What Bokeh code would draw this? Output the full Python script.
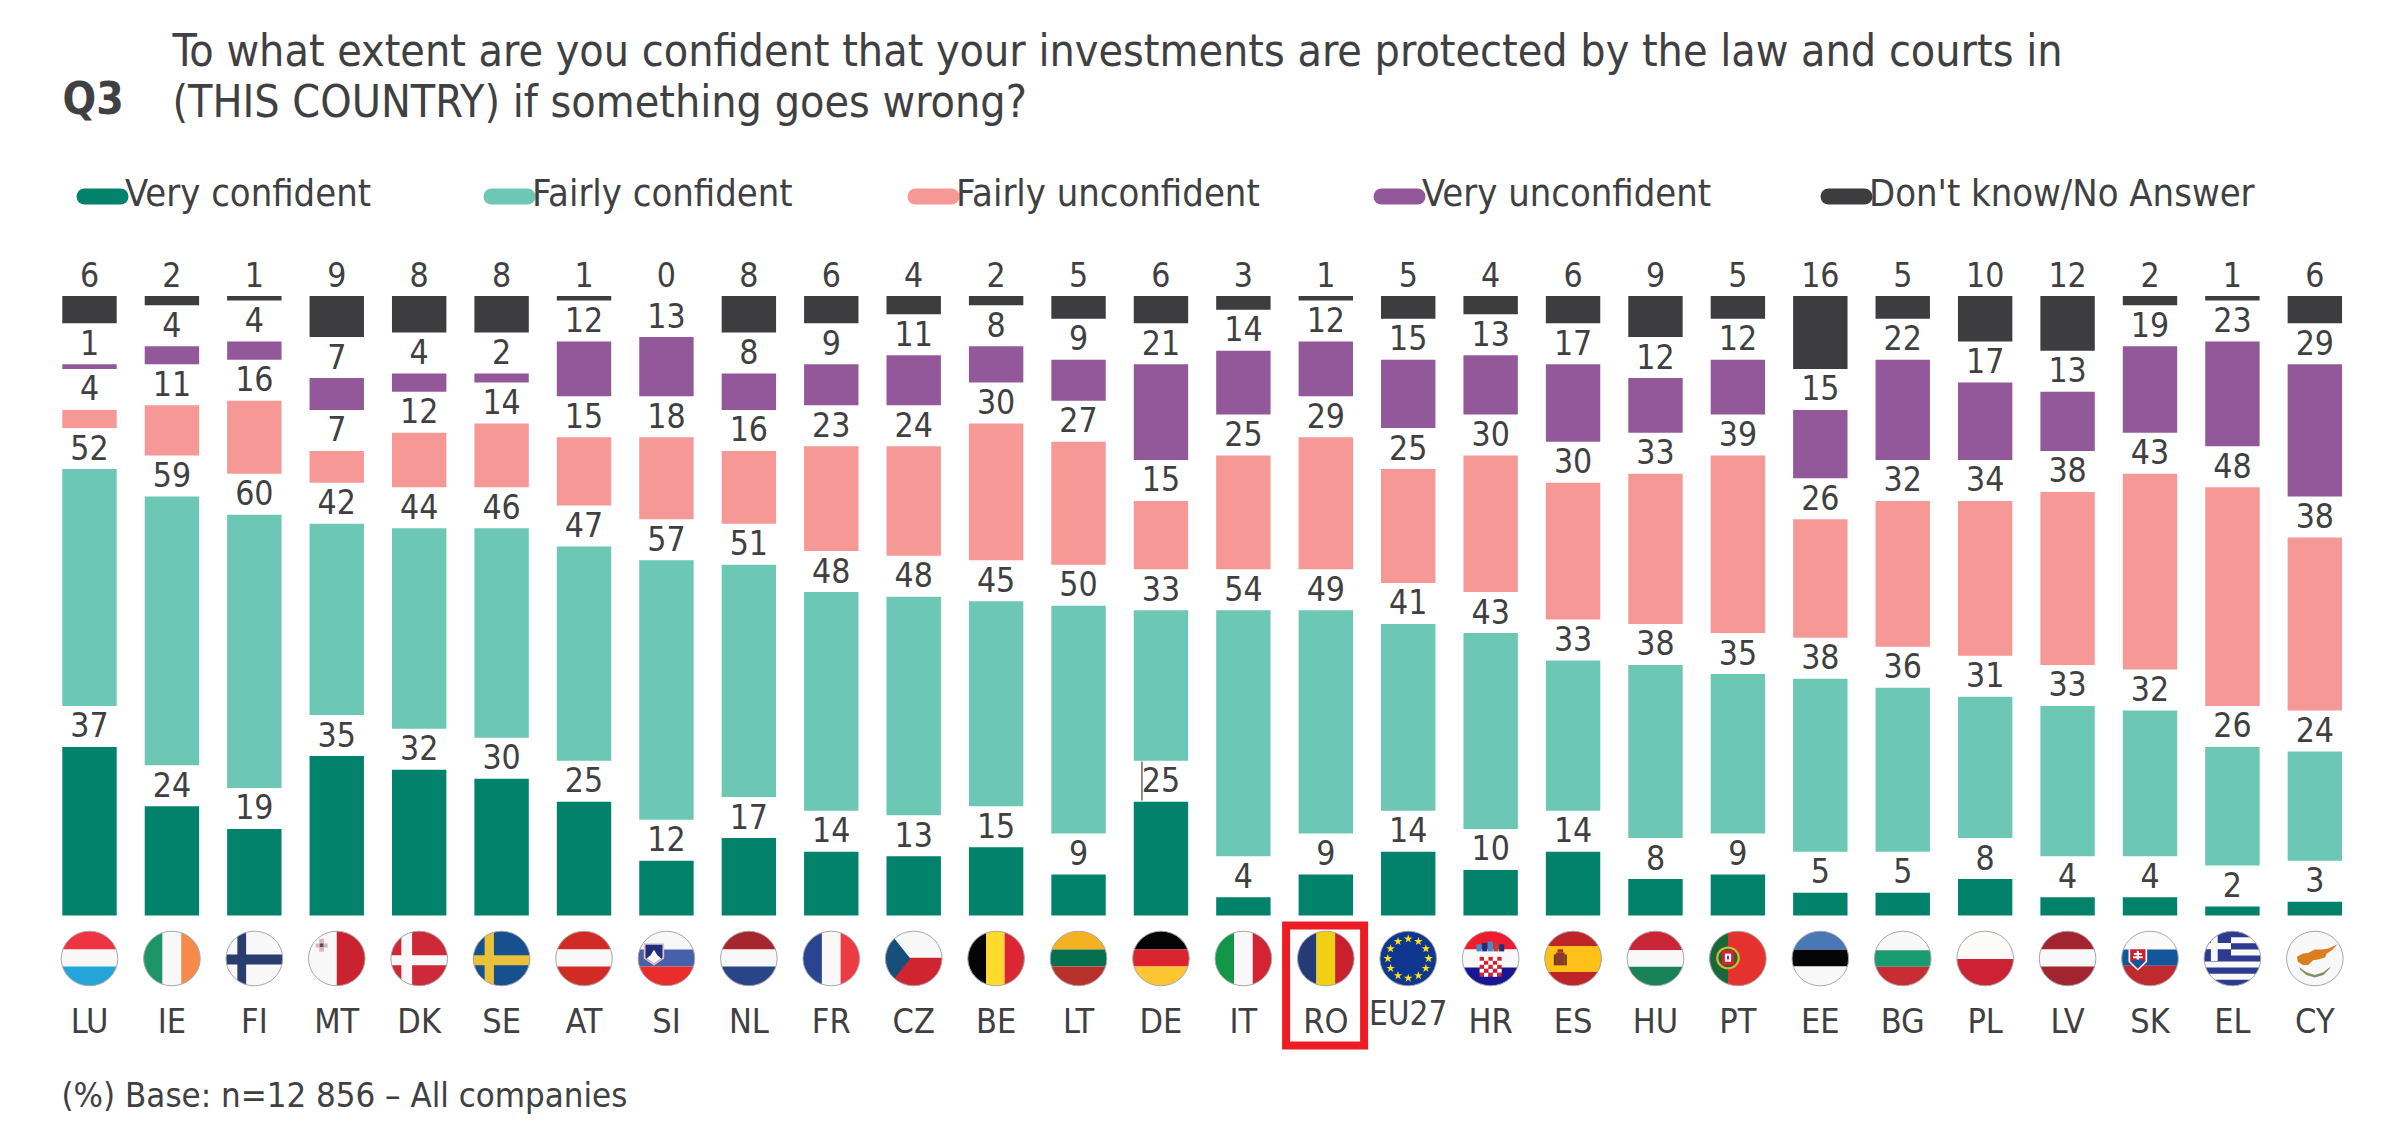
import math
from bokeh.plotting import figure
from bokeh.models import Range1d
from bokeh.core.properties import value
from bokeh.embed import file_html
from bokeh.resources import INLINE

countries = ["LU","IE","FI","MT","DK","SE","AT","SI","NL","FR","CZ","BE","LT","DE","IT","RO","EU27","HR","ES","HU","PT","EE","BG","PL","LV","SK","EL","CY"]
very_confident = [37,24,19,35,32,30,25,12,17,14,13,15,9,25,4,9,14,10,14,8,9,5,5,8,4,4,2,3]
fairly_confident = [52,59,60,42,44,46,47,57,51,48,48,45,50,33,54,49,41,43,33,38,35,38,36,31,33,32,26,24]
fairly_unconfident = [4,11,16,7,12,14,15,18,16,23,24,30,27,15,25,29,25,30,30,33,39,26,32,34,38,43,48,38]
very_unconfident = [1,4,4,7,4,2,12,13,8,9,11,8,9,21,14,12,15,13,17,12,12,15,22,17,13,19,23,29]
dont_know = [6,2,1,9,8,8,1,0,8,6,4,2,5,6,3,1,5,4,6,9,5,16,5,10,12,2,1,6]
series_names = ["Very confident","Fairly confident","Fairly unconfident","Very unconfident","Don't know/No Answer"]
series_values = [very_confident,fairly_confident,fairly_unconfident,very_unconfident,dont_know]
series_colors = ["#02826A","#6CC7B5","#F69896","#93589A","#3D3D3F"]
title_lines = ["To what extent are you confident that your investments are protected by the law and courts in","(THIS COUNTRY) if something goes wrong?"]
question = "Q3"
footnote = "(%) Base: n=12 856 \u2013 All companies"

W, H = 2378, 1123
OFF = 0
STEP = 82.42
X0 = 89.0
BASE = 915.0
UNIT = 4.555
GAP = 9.0
FONT = value("DejaVu Sans Condensed")
TXT = "#404042"

p = figure(width=W, height=H, output_backend="svg", toolbar_location=None,
           x_range=Range1d((OFF-X0)/STEP, (OFF+W-X0)/STEP),
           y_range=Range1d((BASE-(OFF+H))/UNIT, (BASE-OFF)/UNIT),
           x_axis_location=None, y_axis_location=None, min_border=0, outline_line_color=None)
p.grid.visible = False
p.extra_x_ranges["px"] = Range1d(OFF, OFF+W)
p.extra_y_ranges["px"] = Range1d(OFF+H, OFF)
PX = dict(x_range_name="px", y_range_name="px")

xs = list(range(len(countries)))
bottoms = [0.0]*len(countries)
for k, (name, vals, col) in enumerate(zip(series_names, series_values, series_colors)):
    tops = [b+v for b, v in zip(bottoms, vals)]
    p.vbar(x=xs, bottom=bottoms, top=tops, width=0.66, fill_color=col, line_color=None)
    p.text(x=xs, y=tops, text=[str(v) for v in vals], text_align="center", text_baseline="middle",
           y_offset=-22, text_font=FONT, text_font_size=value("33.5px"), text_color=TXT)
    bottoms = [t+GAP for t in tops]

# leader line next to the German label
de_x = X0 + countries.index("DE")*STEP - 19
p.segment(x0=[de_x], y0=[761], x1=[de_x], y1=[800], line_color="#222222", line_width=1, **PX)

# ---- text: y is the baseline of the capitals
def txt(x, y, s, size, font=FONT, style="normal", align="left", color=TXT):
    p.text(x=[x], y=[y-0.365*size], text=[s], text_font=font, text_font_size=value(f"{size}px"), text_font_style=style,
           text_align=align, text_baseline="middle", text_color=color, **PX)

txt(172, 66, title_lines[0], 44.4)
txt(172, 117, title_lines[1], 44.4)
txt(62, 114, question, 44, style="bold")
txt(61, 1107, footnote, 34.5)

legend_pill_x = [76, 483, 907, 1373, 1820]
for x0, name, col in zip(legend_pill_x, series_names, series_colors):
    p.segment(x0=[x0+8], y0=[196], x1=[x0+44], y1=[196], line_color=col, line_width=16, line_cap="round", **PX)
    txt(x0+48.5, 206, name, 37.8)

for i, c in enumerate(countries):
    if c == "EU27":
        txt(X0+i*STEP, 1025, c, 33, align="center")
    else:
        txt(X0+i*STEP, 1033, c, 34, align="center")

# ---- flags
RX, RY, FY = 28.3, 27.3, 958.0
def circle_poly(n=72):
    return [(math.cos(2*math.pi*j/n), math.sin(2*math.pi*j/n)) for j in range(n)]
def clip_half(poly, a, b, c):
    out = []
    for j in range(len(poly)):
        x1, y1 = poly[j]; x2, y2 = poly[(j+1) % len(poly)]
        d1, d2 = a*x1+b*y1-c, a*x2+b*y2-c
        if d1 <= 0: out.append((x1, y1))
        if d1*d2 < 0:
            t = d1/(d1-d2); out.append((x1+t*(x2-x1), y1+t*(y2-y1)))
    return out
def box(u0, u1, v0, v1):
    poly = circle_poly()
    for a, b, c in [(1,0,u1),(-1,0,-u0),(0,1,v1),(0,-1,-v0)]:
        poly = clip_half(poly, a, b, c)
    return poly
def H3(a, b, c, v0=-.33, v1=.29):
    return [(a, box(-2,2,-2,v0)), (b, box(-2,2,v0,v1)), (c, box(-2,2,v1,2))]
def V3(a, b, c, u0=-.33, u1=.33):
    return [(a, box(-2,u0,-2,2)), (b, box(u0,u1,-2,2)), (c, box(u1,2,-2,2))]
def cross(bg, fg, u0, u1, v0, v1):
    return [(bg, box(-2,2,-2,2)), (fg, box(u0,u1,-2,2)), (fg, box(-2,2,v0,v1))]
def rect(u0, u1, v0, v1):
    return [(u0,v0),(u1,v0),(u1,v1),(u0,v1)]

W_ = "#F8F8F8"
flags = {
 "LU": H3("#EF3340",W_,"#24A4D8"),
 "IE": V3("#1D9566",W_,"#F58A4A"),
 "FI": cross(W_,"#2A3D6F",-.6,-.29,-.15,.22),
 "MT": [(W_,box(-2,2,-2,2)),("#CB2230",box(0,2,-2,2)),("#D9B8BC",rect(-.62,-.45,-.72,-.25)),("#D9B8BC",rect(-.75,-.32,-.55,-.4)),("#555555",rect(-.6,-.47,-.55,-.42))],
 "DK": cross("#CE2939",W_,-.63,-.25,-.12,.25),
 "SE": cross("#16508F","#E9C13A",-.6,-.27,-.12,.25),
 "AT": H3("#D22B26",W_,"#D22B26"),
 "SI": H3(W_,"#4660AA","#EB2C2C")+[("#E8C0C8",[(-.8,-.56),(-.08,-.56),(-.08,.0),(-.44,.26),(-.8,.0)]),("#1F2F80",[(-.74,-.5),(-.14,-.5),(-.14,-.02),(-.44,.18),(-.74,-.02)]),(W_,[(-.7,.0),(-.56,-.12),(-.44,-.32),(-.32,-.12),(-.18,.0),(-.44,.18)])],
 "NL": H3("#A6262D",W_,"#2A4488"),
 "FR": V3("#2A4590",W_,"#EE3A43"),
 "CZ": [(W_,box(-2,2,-2,2)),("#CF2531",box(-2,2,-.03,2))],
 "BE": V3("#050507","#FDDB2D","#DB2733",-.35,.3),
 "LT": H3("#F4B223","#066F4F","#B8322D"),
 "DE": H3("#050507","#DA2530","#FCC633"),
 "IT": V3("#129748",W_,"#D32531"),
 "RO": V3("#243B77","#F1CF12","#C8202F"),
 "EU27": [("#0F378F",box(-2,2,-2,2))],
 "HR": H3("#ED1C2E",W_,"#171796",-.33,.33),
 "ES": [("#BE2428",box(-2,2,-2,2)),("#FFC018",box(-2,2,-.46,.49)),("#8A3A2A",rect(-.6,-.3,-.22,.25)),("#6E3B1F",rect(-.68,-.6,-.15,.25)),("#6E3B1F",rect(-.3,-.22,-.15,.25)),("#B03020",rect(-.55,-.35,-.34,-.22))],
 "HU": H3("#CB2638",W_,"#1A8258",-.3,.3),
 "PT": [("#E6322E",box(-2,2,-2,2)),("#17693A",box(-2,-.35,-2,2))],
 "EE": H3("#4879B4","#050507",W_,-.32,.29),
 "BG": H3(W_,"#1A9A70","#C92D34",-.3,.3),
 "PL": [("#FCFBF8",box(-2,2,-2,2)),("#CC2233",box(-2,2,.02,2))],
 "LV": H3("#A1242E",W_,"#A1242E",-.33,.29),
 "SK": H3("#FCFAF8","#15559A","#C02A2F",-.33,.27)+[(W_,[(-.76,-.4),(-.1,-.4),(-.1,.12),(-.43,.45),(-.76,.12)]),("#C9202F",[(-.7,-.34),(-.16,-.34),(-.16,.1),(-.43,.38),(-.7,.1)]),("#15559A",[(-.66,.12),(-.52,.02),(-.43,.06),(-.34,.02),(-.2,.12),(-.43,.36)]),(W_,rect(-.47,-.39,-.28,.04)),(W_,rect(-.57,-.29,-.2,-.13)),(W_,rect(-.6,-.26,-.08,-.01))],
 "EL": [(W_,box(-2,2,-2,2))]+[("#2C3A8F",box(-2,2,-1+.4444*j,-.7778+.4444*j)) for j in range(5)]+[("#2C3A8F",box(-2,-.05,-2,.09)),(W_,box(-.76,-.52,-2,.09)),(W_,box(-2,-.05,-.57,-.34))],
 "CY": [(W_,box(-2,2,-2,2))],
}
def clip_convex(pts):
    poly = circle_poly()
    n = len(pts)
    cx = sum(q[0] for q in pts)/n; cy = sum(q[1] for q in pts)/n
    for j in range(n):
        x1, y1 = pts[j]; x2, y2 = pts[(j+1) % n]
        a, b = y2-y1, x1-x2; c = a*x1+b*y1
        if a*cx+b*cy > c: a, b, c = -a, -b, -c
        poly = clip_half(poly, a, b, c)
    return poly
flags["CZ"].append(("#16507A", clip_convex([(-1.2,-1.4),(-.12,0),(-1.2,1.4)])))

# Croatia: crown and chequered shield
for r in range(5):
    for q in range(5):
        flags["HR"].append(("#D8202E" if (r+q)%2==0 else "#FFFFFF",
                            rect(-.39+q*.156,-.39+(q+1)*.156,-.06+r*.146,-.06+(r+1)*.146)))
for q, col in enumerate(["#3D8FD0","#1F2F80","#3D8FD0","#C8392F","#1F2F80"]):
    flags["HR"].append((col, rect(-.5+q*.2,-.32+q*.2,-.62+abs(q-2)*.05,-.26)))
# Portugal: armillary ring and shield
ring = [(-.35+.42*math.cos(2*math.pi*j/24), -.02+.42*math.sin(2*math.pi*j/24)) for j in range(24)]
flags["PT"] += [("#D8B92C",ring),("#17693A",[(-.35+.34*x,-.02+.34*y) for x,y in circle_poly(24)]),("#D8202E",rect(-.57,-.13,-.3,.24)),(W_,rect(-.46,-.24,-.18,.12)),("#1F3F90",rect(-.38,-.32,-.1,.04))]
# Cyprus: island and laurel
island = [(-.63,-.06),(-.42,-.18),(-.24,-.2),(0,-.33),(.24,-.33),(.48,-.37),(.81,-.52),(.6,-.3),(.42,-.18),(.36,-.04),(.12,.04),(-.06,.06),(-.24,.24),(-.42,.24),(-.6,.12)]
laurel = [(-.55,.32),(-.3,.5),(0,.6),(.3,.5),(.55,.3),(.52,.38),(.3,.6),(0,.7),(-.3,.6),(-.52,.4)]
flags["CY"] += [("#DA7F20",island),("#7F8F68",laurel)]

fx, fy, fc = [], [], []
for i, c in enumerate(countries):
    cx = X0 + i*STEP
    for col, poly in flags[c]:
        fx.append([cx+RX*u for u, v in poly]); fy.append([FY+RY*v for u, v in poly]); fc.append(col)
p.patches(fx, fy, fill_color=fc, line_color=None, **PX)
p.ellipse(x=[X0+i*STEP for i in xs], y=[FY]*len(xs), width=2*RX, height=2*RY, fill_color=None,
          line_color="#A8A8A8", line_width=1, **PX)
# EU stars
eu_x = X0 + countries.index("EU27")*STEP
sx = [eu_x+RX*.72*math.sin(2*math.pi*j/12) for j in range(12)]
sy = [FY-RY*.72*math.cos(2*math.pi*j/12) for j in range(12)]
p.scatter(sx, sy, marker="star", size=9, fill_color="#FFE11A", line_color=None, **PX)

# ---- highlight around RO
ro_x = X0 + countries.index("RO")*STEP
p.quad(left=[ro_x-39.7], right=[ro_x+38.3], top=[925], bottom=[1045], fill_color=None,
       line_color="#ED1C24", line_width=8, line_join="miter", **PX)

open("out.html", "w").write(file_html(p, INLINE))
